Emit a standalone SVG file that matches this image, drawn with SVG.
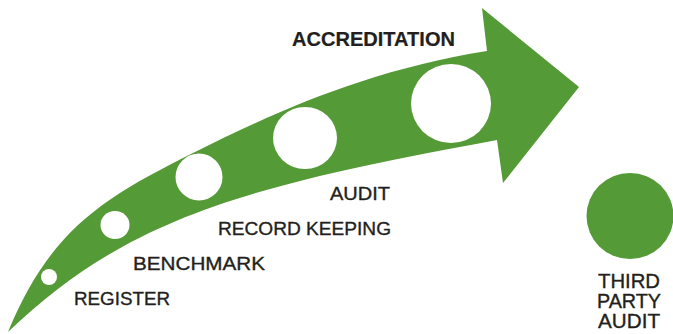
<svg xmlns="http://www.w3.org/2000/svg" width="673" height="334" viewBox="0 0 673 334">
<style>
.g{fill:#549a36}
.w{fill:#ffffff}
.t{font-family:"Liberation Sans",Arial,sans-serif;font-size:18px;fill:#231f20;stroke:#231f20;stroke-width:0.35}
.b{font-weight:bold;font-size:19.5px;stroke-width:0.2}
.p{font-size:20px}
</style>
<rect width="673" height="334" fill="#ffffff"/>
<g id="arrow">
<path class="g" d="M8,332 C50,230 103,198 193,153 C273,113 367,70 487,51 L482,8 L579,87 L503,183 L497,140 C247,186 128,217 8,332 Z"/>
<ellipse class="w" cx="49" cy="277" rx="8" ry="8"/>
<ellipse class="w" cx="115" cy="225" rx="14.5" ry="14"/>
<ellipse class="w" cx="199" cy="177" rx="23.5" ry="23.5"/>
<ellipse class="w" cx="305" cy="138" rx="32" ry="31"/>
<ellipse class="w" cx="451" cy="103.5" rx="40" ry="39.5"/>
</g>
<g id="labels">
<text class="t b" x="292" y="46" textLength="163" lengthAdjust="spacingAndGlyphs">ACCREDITATION</text>
<text class="t" x="330" y="200" textLength="60" lengthAdjust="spacingAndGlyphs">AUDIT</text>
<text class="t" x="218" y="235" textLength="173" lengthAdjust="spacingAndGlyphs">RECORD KEEPING</text>
<text class="t" x="133" y="270" textLength="132" lengthAdjust="spacingAndGlyphs">BENCHMARK</text>
<text class="t" x="74" y="305" textLength="96" lengthAdjust="spacingAndGlyphs">REGISTER</text>
</g>
<g id="third-party">
<ellipse class="g" cx="630" cy="216" rx="43.5" ry="43"/>
<text class="t p" x="598" y="288" textLength="62" lengthAdjust="spacingAndGlyphs">THIRD</text>
<text class="t p" x="597" y="308" textLength="64" lengthAdjust="spacingAndGlyphs">PARTY</text>
<text class="t p" x="598" y="328" textLength="62" lengthAdjust="spacingAndGlyphs">AUDIT</text>
</g>
</svg>
